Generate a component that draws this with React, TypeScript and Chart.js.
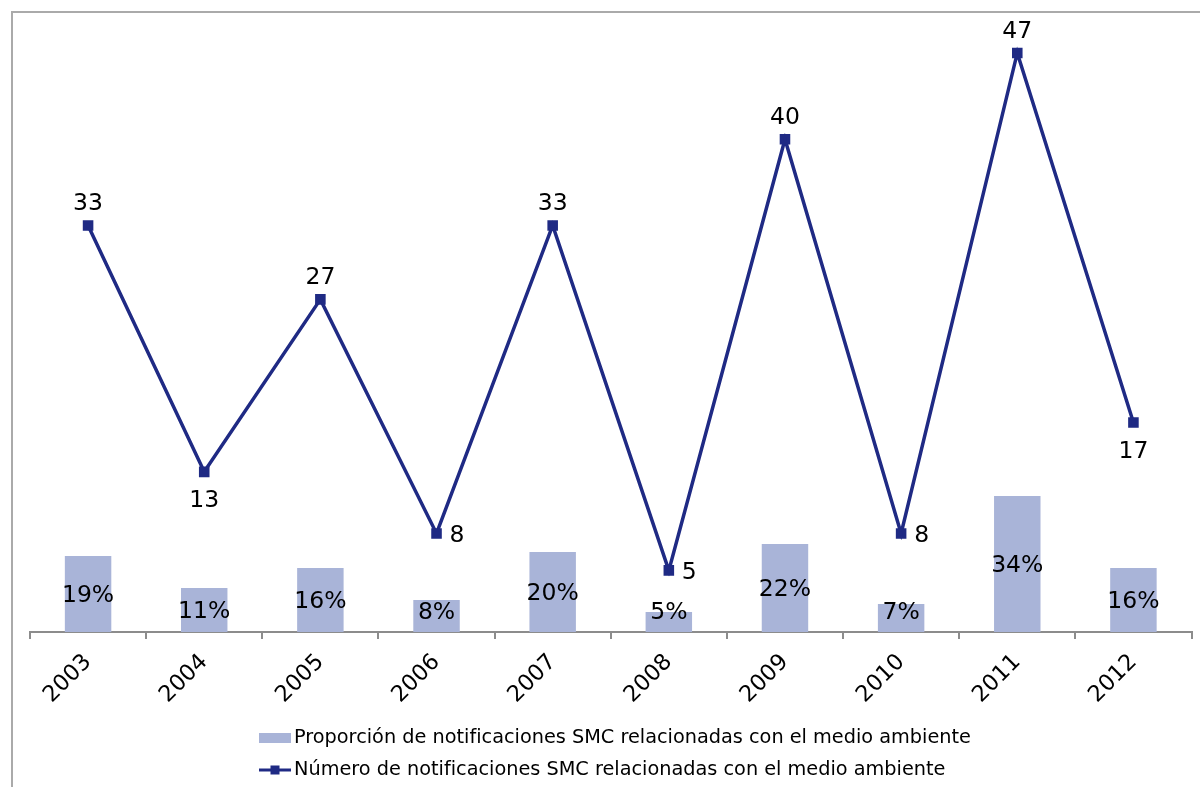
import React, { useEffect, useRef } from "react";
import { Chart, registerables } from "chart.js";

Chart.register(...registerables);

const years = ["2003", "2004", "2005", "2006", "2007", "2008", "2009", "2010", "2011", "2012"];
const counts = [33, 13, 27, 8, 33, 5, 40, 8, 47, 17];
const shares = [19, 11, 16, 8, 20, 5, 22, 7, 34, 16];
const countLabelPos = ["above", "below", "above", "right", "above", "right", "above", "right", "above", "below"];
const barLabel = "Proporción de notificaciones SMC relacionadas con el medio ambiente";
const lineLabel = "Número de notificaciones SMC relacionadas con el medio ambiente";

const LINE_COLOR = "#1F2A84";
const BAR_COLOR = "#A9B4D8";
const FONT = "DejaVu Sans";

const labelPlugin = {
  id: "customLabels",
  afterDraw(chart: any) {
    const ctx = chart.ctx;
    ctx.save();
    ctx.fillStyle = "#000";
    ctx.font = `23.5px "${FONT}"`;
    const barMeta = chart.getDatasetMeta(1);
    const axisY = chart.chartArea.bottom;
    barMeta.data.forEach((el: any, i: number) => {
      const center = (el.y + axisY) / 2;
      const cy = Math.min(center + 1.5, axisY - 19);
      ctx.textAlign = "center";
      ctx.textBaseline = "middle";
      ctx.fillText(`${shares[i]}%`, el.x, cy);
    });
    const lineMeta = chart.getDatasetMeta(0);
    lineMeta.data.forEach((el: any, i: number) => {
      const pos = countLabelPos[i];
      const t = String(counts[i]);
      if (pos === "above") {
        ctx.textAlign = "center";
        ctx.textBaseline = "alphabetic";
        ctx.fillText(t, el.x, el.y - 15);
      } else if (pos === "below") {
        ctx.textAlign = "center";
        ctx.textBaseline = "alphabetic";
        ctx.fillText(t, el.x, el.y + 35);
      } else {
        ctx.textAlign = "left";
        ctx.textBaseline = "middle";
        ctx.fillText(t, el.x + 13, el.y + 2);
      }
    });
    try {
      (ctx as any).textRendering = "optimizeSpeed";
    } catch (e) {}
    ctx.font = `19.3px "${FONT}"`;
    ctx.textAlign = "left";
    ctx.textBaseline = "middle";
    const lx = 259;
    const y1 = 738;
    const y2 = 770;
    ctx.fillStyle = BAR_COLOR;
    ctx.fillRect(lx, y1 - 5, 32, 10);
    ctx.fillStyle = "#000";
    ctx.fillText(barLabel, 294, y1);
    ctx.strokeStyle = LINE_COLOR;
    ctx.lineWidth = 3;
    ctx.beginPath();
    ctx.moveTo(lx, y2);
    ctx.lineTo(lx + 32, y2);
    ctx.stroke();
    ctx.fillStyle = LINE_COLOR;
    ctx.fillRect(lx + 16 - 4.5, y2 - 4.5, 9, 9);
    ctx.fillStyle = "#000";
    ctx.fillText(lineLabel, 294, y2);
    ctx.restore();
  },
};

export default function App() {
  const ref = useRef<HTMLCanvasElement | null>(null);
  useEffect(() => {
    if (!ref.current) return;
    const chart = new Chart(ref.current, {
      type: "bar",
      data: {
        labels: years,
        datasets: [
          {
            type: "line",
            label: lineLabel,
            data: counts,
            yAxisID: "y",
            borderColor: LINE_COLOR,
            backgroundColor: LINE_COLOR,
            borderWidth: 3.5,
            pointStyle: "rect",
            pointRadius: 5,
            pointBackgroundColor: LINE_COLOR,
            pointBorderColor: LINE_COLOR,
            tension: 0,
            order: 0,
          } as any,
          {
            type: "bar",
            label: barLabel,
            data: shares,
            yAxisID: "y1",
            backgroundColor: BAR_COLOR,
            barPercentage: 0.4,
            categoryPercentage: 1,
            order: 1,
          } as any,
        ],
      },
      options: {
        animation: false,
        responsive: false,
        maintainAspectRatio: false,
        layout: { padding: { left: 30, right: 5, top: 16, bottom: 0 } },
        plugins: { legend: { display: false }, tooltip: { enabled: false } },
        scales: {
          x: {
            offset: true,
            grid: {
              offset: true,
              drawOnChartArea: false,
              drawTicks: true,
              tickLength: 7,
              color: "#8c8c8c",
              lineWidth: 2,
            },
            border: { display: true, color: "#8c8c8c", width: 2 },
            ticks: {
              minRotation: 45,
              maxRotation: 45,
              color: "#000",
              padding: 10,
              font: { family: FONT, size: 22.5 },
            },
            afterFit: (s: any) => {
              s.height = 155;
            },
          },
          y: { display: false, min: 0, max: 50 },
          y1: { display: false, min: 0, max: 154, position: "right" },
        },
      } as any,
      plugins: [labelPlugin],
    });
    return () => chart.destroy();
  }, []);
  return (
    <div style={{ position: "fixed", left: 0, top: 0, width: 1200, height: 787, background: "#fff" }}>
      <canvas ref={ref} width={1200} height={787} style={{ position: "absolute", left: 0, top: 0 }} />
      <div
        style={{
          position: "absolute",
          left: 11,
          top: 11,
          width: 1200,
          height: 800,
          borderTop: "2px solid #aaaaaa",
          borderLeft: "2px solid #aaaaaa",
          pointerEvents: "none",
        }}
      />
    </div>
  );
}
